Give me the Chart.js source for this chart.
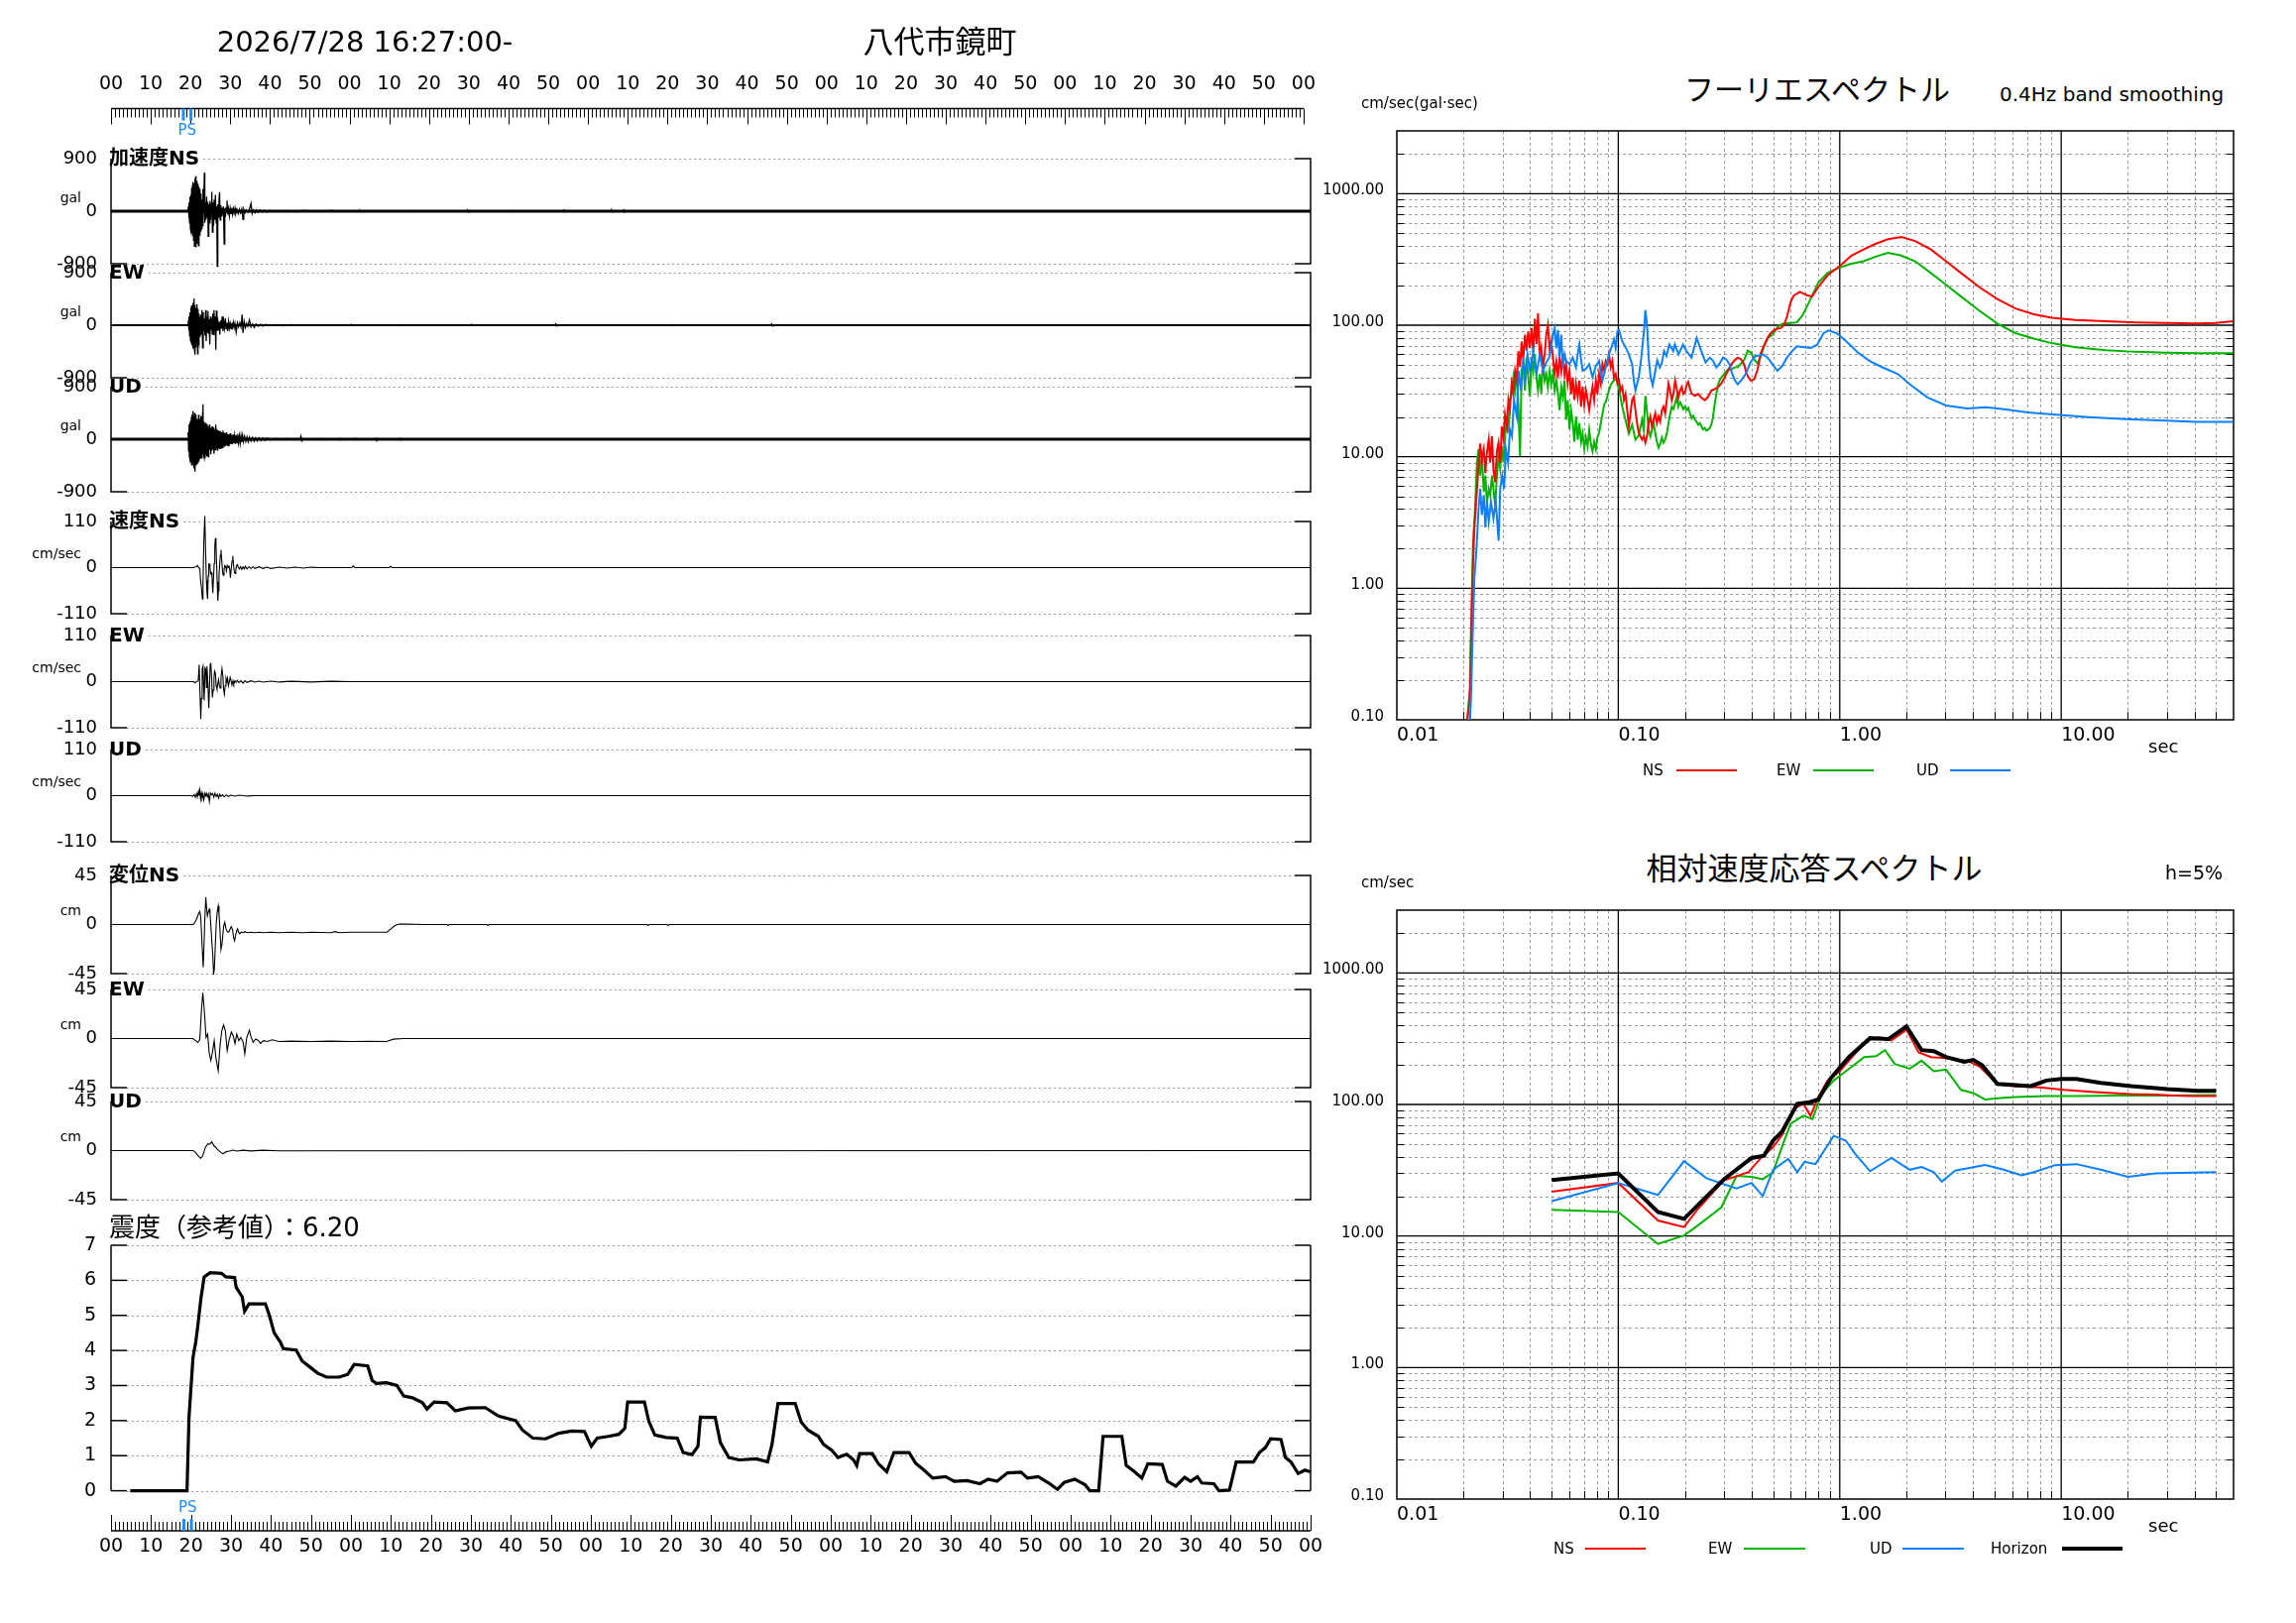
<!DOCTYPE html>
<html lang="ja">
<head>
<meta charset="utf-8">
<title>八代市鏡町</title>
<script src="https://cdn.jsdelivr.net/npm/chart.js@4.4.1/dist/chart.umd.min.js"></script>
<style>
  html, body { margin: 0; padding: 0; background: #fff; }
  #page { position: relative; width: 2316px; height: 1637px; overflow: hidden; background: #fff;
          font-family: "DejaVu Sans", "Noto Sans CJK JP", sans-serif; color: #000; }
  #page canvas { position: absolute; }
  .txt { position: absolute; white-space: nowrap; line-height: 1; }
  .key { position: absolute; }
</style>
</head>
<body>
<div id="page"></div>
<script>
// ---- waveforms: [seconds, value] ----
const accNS = [[0,0],[19.2,0],[19.35,80],[19.45,-120],[19.55,150],[19.65,-200],[19.75,250],[19.85,-300],[19.95,280],[20.05,-350],[20.15,400],[20.25,-380],[20.35,450],[20.45,-420],[20.55,500],[20.65,-500],[20.75,480],[20.85,-600],[20.95,560],[21.05,-520],[21.15,600],[21.25,-620],[21.35,520],[21.45,-560],[21.55,450],[21.65,-480],[21.75,470],[21.85,-590],[21.95,420],[22.05,-400],[22.15,380],[22.25,-420],[22.35,300],[22.45,-350],[22.55,260],[22.65,-300],[22.75,200],[22.85,-250],[22.95,380],[23.05,-150],[23.2,200],[23.35,660],[23.45,-200],[23.6,150],[23.75,-150],[23.9,250],[24.05,-100],[24.2,160],[24.3,-430],[24.45,120],[24.6,-200],[24.75,180],[24.9,-150],[25.05,120],[25.2,330],[25.35,-360],[25.5,150],[25.65,-250],[25.8,200],[25.95,-150],[26.1,280],[26.3,-200],[26.45,80],[26.55,-945],[26.7,120],[26.85,-100],[27.0,200],[27.15,327],[27.3,-150],[27.45,100],[27.6,-80],[27.75,60],[27.9,-50],[28.1,80],[28.3,-560],[28.45,50],[28.6,-100],[28.8,60],[29.0,180],[29.2,-60],[29.4,40],[29.6,-80],[29.8,50],[30.0,-40],[30.2,60],[30.4,-50],[30.6,40],[30.8,-30],[31.0,50],[31.2,-40],[31.5,30],[31.8,-40],[32.1,30],[32.4,-30],[32.7,40],[33.0,-140],[33.2,30],[33.5,-30],[33.8,20],[34.2,-20],[34.6,30],[35.0,130],[35.3,-40],[35.6,20],[36.0,-30],[36.4,20],[36.8,-20],[37.3,20],[37.8,-15],[38.4,15],[39.0,-15],[39.7,15],[40.5,-10],[41.5,10],[42.5,-10],[44,10],[46,-10],[48,10],[50,0],[55,0],[55.3,14],[55.6,-10],[56,0],[62,0],[62.2,15],[62.5,-12],[63,0],[75,0],[75.3,12],[75.6,-10],[76,0],[89,0],[89.2,25],[89.5,-15],[90,0],[100,0],[100.3,15],[100.6,-12],[101,0],[113,0],[113.2,20],[113.5,-12],[114,0],[125,0],[125.2,20],[125.5,-15],[126,0],[128,0],[128.2,22],[128.5,-15],[129,0],[300,0]];
const accEW = [[0,0],[19.2,0],[19.35,60],[19.45,-90],[19.55,150],[19.65,-180],[19.75,220],[19.85,-250],[19.95,300],[20.05,-280],[20.15,340],[20.25,-350],[20.35,300],[20.45,-400],[20.55,380],[20.65,-300],[20.75,460],[20.85,-420],[20.95,350],[21.05,-505],[21.15,300],[21.25,-380],[21.35,250],[21.45,-300],[21.55,355],[21.65,-490],[21.75,280],[21.85,-250],[21.95,200],[22.05,-300],[22.15,150],[22.3,-200],[22.45,180],[22.6,-150],[22.75,260],[22.9,-390],[23.05,220],[23.2,-100],[23.35,120],[23.5,-180],[23.65,260],[23.8,-270],[23.95,150],[24.1,-120],[24.25,240],[24.4,-150],[24.55,100],[24.7,-330],[24.85,150],[25.0,-80],[25.15,120],[25.3,-150],[25.45,200],[25.6,-160],[25.75,260],[25.9,-100],[26.05,150],[26.2,-420],[26.35,250],[26.5,-100],[26.65,130],[26.8,-80],[27.0,60],[27.2,-160],[27.4,80],[27.6,-60],[27.8,150],[28.0,-100],[28.2,60],[28.4,-50],[28.6,120],[28.8,-60],[29.0,40],[29.2,-100],[29.4,60],[29.6,-50],[29.8,30],[30.0,-60],[30.2,40],[30.4,-30],[30.6,50],[30.8,-40],[31.0,30],[31.3,-120],[31.6,40],[31.9,-30],[32.2,40],[32.5,-30],[32.8,180],[33.0,-130],[33.3,60],[33.6,-40],[33.9,30],[34.2,-20],[34.6,90],[35.0,-30],[35.4,20],[35.8,-40],[36.3,20],[36.8,-20],[37.4,15],[38.0,-15],[38.8,15],[39.6,-10],[41,10],[43,-10],[45,10],[47,-8],[50,0],[60,0],[60.2,10],[60.5,-8],[61,0],[72,0],[72.2,12],[72.5,-10],[73,0],[90,0],[90.2,10],[90.5,-8],[91,0],[111,0],[111.2,25],[111.5,-15],[112,0],[140,0],[140.2,10],[140.5,-8],[141,0],[165,0],[165.2,25],[165.5,-15],[166,0],[300,0]];
const accUD = [[0,0],[19.2,0],[19.3,120],[19.4,-200],[19.5,250],[19.6,-300],[19.7,280],[19.8,-350],[19.9,320],[20.0,-400],[20.1,380],[20.2,-450],[20.3,420],[20.4,-380],[20.5,480],[20.6,-420],[20.7,400],[20.8,-500],[20.9,450],[21.0,-555],[21.1,420],[21.2,-450],[21.3,380],[21.4,-420],[21.5,350],[21.6,-400],[21.7,330],[21.8,-350],[21.9,420],[22.0,-380],[22.1,300],[22.2,-340],[22.3,350],[22.4,-300],[22.5,400],[22.6,-320],[22.7,380],[22.8,-280],[22.9,450],[23.0,600],[23.1,-250],[23.2,300],[23.3,-300],[23.4,250],[23.5,-330],[23.6,280],[23.7,-250],[23.8,220],[23.9,-280],[24.0,260],[24.1,-200],[24.2,230],[24.3,-300],[24.4,200],[24.5,-220],[24.6,250],[24.7,-180],[24.8,200],[24.9,-260],[25.0,180],[25.15,-200],[25.3,220],[25.45,-180],[25.6,200],[25.75,-250],[25.9,160],[26.05,-180],[26.2,250],[26.35,-150],[26.5,170],[26.65,-200],[26.8,150],[26.95,-160],[27.1,140],[27.25,-170],[27.4,130],[27.55,-150],[27.7,120],[27.85,-140],[28.0,150],[28.15,-120],[28.3,110],[28.45,-130],[28.6,100],[28.75,-110],[28.9,120],[29.05,-100],[29.2,90],[29.35,-110],[29.5,80],[29.65,-90],[29.8,100],[29.95,-80],[30.1,70],[30.3,-90],[30.5,80],[30.7,-70],[30.9,60],[31.1,-80],[31.3,70],[31.5,-60],[31.7,90],[31.9,-60],[32.1,50],[32.3,-70],[32.5,60],[32.7,-50],[32.9,60],[33.1,-45],[33.4,50],[33.7,-40],[34.0,40],[34.3,-45],[34.6,35],[35.0,-35],[35.4,30],[35.8,-35],[36.2,25],[36.6,-30],[37.0,25],[37.5,-25],[38.0,20],[38.5,-20],[39.0,20],[40,-15],[41,15],[42,-10],[44,10],[46,0],[47.3,0],[47.5,50],[47.7,-30],[48,0],[53,0],[53.2,12],[53.5,-10],[54,0],[57,0],[57.2,15],[57.5,-12],[58,0],[61,0],[61.2,12],[61.5,-10],[62,0],[66,0],[66.2,15],[66.4,-15],[67,0],[72,0],[72.2,15],[72.5,-12],[73,0],[300,0]];
const velNS = [[0,0],[20.5,0],[21.2,2],[21.6,5],[21.9,0],[22.2,-2],[22.4,-30],[22.6,-46],[22.85,-75],[23.0,-40],[23.2,60],[23.45,123],[23.65,40],[23.85,-30],[24.0,-60],[24.15,-75],[24.3,-20],[24.45,9],[24.6,9],[24.75,0],[24.9,-14],[25.05,-12],[25.25,-20],[25.45,-61],[25.6,-30],[25.8,10],[25.95,50],[26.1,70],[26.25,53],[26.4,10],[26.55,-34],[26.7,-79],[26.85,-55],[27.0,-20],[27.15,5],[27.35,30],[27.5,42],[27.7,15],[27.9,-10],[28.05,-18],[28.25,-5],[28.45,5],[28.65,3],[28.85,-8],[29.05,5],[29.3,0],[29.5,5],[29.7,-5],[29.85,-24],[30.05,-5],[30.25,15],[30.45,28],[30.6,10],[30.8,-8],[31.0,-14],[31.2,-5],[31.4,5],[31.6,7],[31.85,0],[32.1,-3],[32.4,2],[32.7,-4],[33.0,2],[33.3,-3],[33.6,3],[34,-3],[34.5,2],[35,-2],[35.5,2],[36,-2],[37,2],[38,-2],[39,1],[40,-2],[42,1],[44,-1],[46,1],[48,-1],[50,1],[52,0],[60.2,0],[60.6,4],[61,0],[69.6,0],[69.9,3],[70.3,0],[300,0]];
const velEW = [[0,0],[20.7,0],[20.9,-3],[21.4,0],[21.8,2],[22.05,40],[22.25,-30],[22.45,-89],[22.6,-40],[22.8,30],[23.0,37],[23.15,-10],[23.3,-45],[23.5,33],[23.7,30],[23.85,-14],[24.0,37],[24.2,0],[24.45,-63],[24.6,-20],[24.8,41],[24.95,45],[25.15,10],[25.35,-38],[25.55,-20],[25.75,10],[25.9,25],[26.1,20],[26.3,-10],[26.5,-18],[26.7,-5],[26.9,5],[27.1,-10],[27.3,-15],[27.5,10],[27.75,31],[27.95,15],[28.15,-18],[28.35,-30],[28.55,-10],[28.75,8],[28.95,0],[29.15,8],[29.35,-10],[29.6,0],[29.8,10],[30.0,4],[30.25,-8],[30.5,2],[30.7,-6],[31,2],[31.3,-2],[31.6,3],[32,-2],[32.5,2],[33,-4],[33.5,2],[34,-2],[35,2],[36,-1],[37,1],[38,-1],[40,1],[42,-1],[45,1],[50,-1],[55,1],[60,0],[300,0]];
const velUD = [[0,0],[20.0,0],[20.4,-2],[20.8,3],[21.1,-4],[21.4,5],[21.6,-3],[21.85,10],[22.0,0],[22.2,13],[22.4,-8],[22.6,6],[22.8,-5],[23.0,4],[23.2,-10],[23.5,6],[23.7,0],[23.9,5],[24.1,-3],[24.35,4],[24.6,-14],[24.85,6],[25.1,2],[25.4,5],[25.7,-4],[26.0,6],[26.3,-2],[26.6,3],[26.9,-6],[27.2,3],[27.5,-2],[27.9,2],[28.3,-3],[28.8,2],[29.3,-2],[30,1],[31,-1],[32,1],[34,-1],[36,0],[300,0]];
const dispNS = [[0,0],[20.5,0],[20.8,1],[21.4,5],[21.9,10],[22.2,12],[22.4,8],[22.6,-5],[22.85,-25],[23.05,-39],[23.25,-20],[23.45,5],[23.7,25],[23.9,15],[24.1,8],[24.3,11],[24.55,14],[24.75,10],[24.95,0],[25.2,-15],[25.45,-28],[25.65,-46],[25.85,-40],[26.05,-22],[26.3,0],[26.55,11],[26.8,17],[27.0,10],[27.25,-5],[27.5,-23],[27.75,-18],[27.95,-10],[28.15,-2],[28.45,2],[28.75,-4],[29.0,-6],[29.3,-7],[29.6,-6],[29.9,-3],[30.1,-2],[30.4,-5],[30.65,-12],[30.9,-15],[31.15,-10],[31.4,-6],[31.65,-4],[31.9,-7],[32.2,-8.5],[32.6,-7],[33,-7.5],[33.5,-6.5],[34,-7.5],[35,-7],[36,-7.5],[37,-7],[38,-7.5],[40,-7],[42,-7.5],[45,-7],[48,-7.5],[50,-7],[55,-7.5],[56,-6.5],[57,-7.5],[60,-7],[65,-7],[69,-7],[70,-4],[71,-1],[72,0.5],[74,0.3],[78,0],[84,0],[84.3,-0.8],[84.6,0],[94,0],[94.3,-0.8],[94.6,0],[134,0],[134.3,-0.8],[134.6,0],[139,0],[139.3,-0.8],[139.6,0],[300,0]];
const dispEW = [[0,0],[20.5,0],[21.0,-1.5],[21.7,-3.6],[22.2,-1],[22.6,25],[22.95,42],[23.35,25],[23.75,1],[24.15,4],[24.55,-13],[24.95,-20],[25.35,-13],[25.8,-2],[26.2,-17],[26.8,-29.5],[27.3,-5],[27.7,7],[28.15,12.5],[28.6,7],[29.05,-11],[29.5,-2],[30.1,6],[30.6,2],[31.0,-4.5],[31.45,4],[31.95,-2],[32.45,1],[33.05,-3.5],[33.45,-14],[33.95,1],[34.6,7.6],[35.05,1],[35.55,-3.6],[36.15,-0.5],[36.75,-1.5],[37.4,-4.5],[38.1,-2],[39.1,-2.7],[40.3,-1.2],[42,-2.7],[45,-2.4],[50,-2.7],[55,-2.4],[60,-2.7],[65,-2.5],[68.9,-2.7],[70.6,-0.6],[73,0],[300,0]];
const dispUD = [[0,0],[20.5,0],[21.1,-1.5],[21.7,-4.5],[22.4,-7],[22.9,-5],[23.6,3],[24.2,6],[24.7,6],[25.2,8],[25.7,4.5],[26.2,3],[26.5,1.5],[27.4,-1.5],[28.0,-3],[28.8,-1],[29.6,-0.5],[30.4,0.5],[31.5,-0.5],[33,0.3],[35,-0.3],[38,0.3],[42,-0.2],[300,0]];

// ---- seismic intensity: [seconds, value] ----
const shindo = [[4.8,0],[19.0,0],[19.5,2.1],[20.5,3.8],[21.2,4.25],[21.6,4.6],[22.5,5.5],[23.3,6.1],[24.8,6.22],[27.6,6.2],[28.7,6.1],[30.9,6.08],[31.3,5.8],[32.8,5.53],[33.4,5.12],[34.5,5.33],[38.6,5.33],[39.6,5.0],[40.8,4.5],[42.3,4.25],[43.1,4.05],[46.3,4.01],[47.8,3.7],[49.6,3.54],[51.7,3.35],[53.9,3.24],[57.1,3.24],[59.2,3.32],[60.8,3.6],[64.2,3.56],[65.3,3.15],[66.3,3.06],[68.9,3.08],[71.5,3.0],[73.2,2.7],[75.4,2.65],[77.9,2.51],[79.0,2.33],[80.8,2.53],[84.0,2.51],[86.1,2.28],[89.3,2.36],[93.6,2.37],[96.9,2.13],[101.2,2.0],[102.9,1.73],[105.5,1.5],[108.7,1.48],[112.0,1.64],[115.2,1.7],[118.4,1.69],[120.1,1.27],[121.6,1.5],[124.4,1.55],[127.0,1.61],[128.5,1.78],[129.2,2.53],[133.4,2.53],[134.5,1.98],[136.0,1.59],[138.8,1.52],[141.6,1.5],[143.1,1.09],[145.3,1.03],[146.8,1.27],[147.4,2.1],[151.1,2.09],[152.4,1.37],[154.5,0.95],[157.1,0.88],[161.4,0.91],[164.2,0.82],[165.3,1.32],[166.8,2.49],[171.1,2.49],[172.6,1.96],[174.3,1.73],[176.9,1.55],[178.2,1.32],[180.3,1.15],[181.8,0.95],[184.0,1.04],[185.7,0.88],[186.5,0.72],[187.2,1.06],[190.4,1.06],[191.9,0.77],[194.0,0.54],[195.8,1.09],[199.6,1.09],[201.2,0.79],[203.3,0.59],[205.5,0.36],[208.7,0.40],[210.9,0.27],[214.1,0.29],[217.3,0.2],[219.4,0.33],[221.6,0.27],[224.2,0.51],[227.6,0.53],[229.2,0.36],[231.9,0.40],[234.5,0.22],[236.7,0.04],[238.4,0.24],[241.0,0.33],[243.6,0.17],[244.8,0.0],[247.0,0.0],[248.1,1.55],[252.8,1.55],[253.9,0.72],[256.0,0.54],[257.8,0.36],[259.3,0.77],[262.9,0.75],[264.2,0.27],[266.3,0.13],[268.5,0.38],[270.0,0.27],[271.7,0.40],[272.8,0.22],[275.8,0.2],[277.1,0.0],[279.7,0.02],[281.4,0.82],[285.7,0.82],[287.2,1.09],[288.7,1.23],[290.0,1.48],[292.6,1.46],[293.7,0.95],[295.1,0.82],[296.9,0.49],[298.6,0.59],[299.9,0.54]];

// ---- Fourier spectra: [period sec, cm/sec] ----
const fourierNS = [[0.0208,0.1],[0.0214,0.15],[0.0216,0.35],[0.0221,1.6],[0.0224,2.9],[0.0229,5],[0.0234,9],[0.0238,12.6],[0.0242,9.5],[0.0247,11.4],[0.0251,7.5],[0.0255,10.7],[0.026,13.5],[0.0264,9],[0.0269,14.3],[0.0273,8],[0.0278,6.4],[0.0283,11],[0.0288,12.8],[0.0293,9],[0.0298,17],[0.0303,14],[0.0308,21],[0.0314,17],[0.0319,27],[0.0324,23],[0.033,36],[0.0336,30],[0.0342,45],[0.0348,38],[0.0354,63.6],[0.036,48],[0.0366,75],[0.0372,55],[0.0379,84.7],[0.0385,64],[0.0392,89.7],[0.0399,67],[0.0406,95],[0.0413,62],[0.042,112],[0.0427,72],[0.0434,123],[0.0442,56],[0.0449,67],[0.0457,48],[0.0465,60],[0.0473,85],[0.0481,100],[0.049,64],[0.0498,75],[0.0507,57],[0.0516,43],[0.0525,53],[0.0534,40],[0.0543,57],[0.0553,45],[0.0562,60],[0.0572,42],[0.0581,50],[0.0591,36],[0.0602,45],[0.0612,30],[0.0623,40],[0.0633,27],[0.0644,36],[0.0656,28.5],[0.0667,38],[0.0679,24],[0.069,34],[0.0702,25],[0.0714,32],[0.0727,27],[0.0739,22.6],[0.0752,28.5],[0.0765,34],[0.0778,27],[0.0792,38],[0.0805,30],[0.0819,42.5],[0.0834,36],[0.0848,50.5],[0.0863,45],[0.0878,53.5],[0.0893,50.5],[0.0908,60],[0.0924,48],[0.094,53.5],[0.0956,40],[0.0973,42.5],[0.099,36],[0.1007,38],[0.1024,32],[0.1042,34],[0.106,27],[0.1078,30],[0.1097,22.6],[0.1116,17],[0.1135,21.4],[0.1155,27],[0.1175,28.5],[0.1195,22.6],[0.1216,18],[0.1237,15.2],[0.1258,14.3],[0.128,13.5],[0.1302,14.3],[0.1325,12.8],[0.1348,14.3],[0.1371,18],[0.1395,20.2],[0.1419,17],[0.1444,19.1],[0.1469,21.4],[0.1494,18],[0.152,20.2],[0.1546,18.5],[0.1573,22.6],[0.16,24],[0.1628,21.4],[0.1656,27],[0.1685,36],[0.1714,32],[0.1744,26.9],[0.1774,30],[0.1805,37.9],[0.1836,33],[0.1867,28],[0.19,31.9],[0.1933,33.8],[0.1966,30],[0.2,31],[0.2035,35],[0.207,37],[0.2106,33],[0.2142,30.2],[0.2217,29],[0.2295,30],[0.2375,28],[0.2458,26.9],[0.2543,28.5],[0.2632,31.9],[0.2724,32.6],[0.2819,33.8],[0.2917,36],[0.3019,40],[0.3125,45],[0.3234,50],[0.3347,54],[0.3463,56.7],[0.3584,55],[0.371,50],[0.3774,44],[0.3839,41],[0.3973,37.9],[0.4111,39],[0.4256,46],[0.4404,61.7],[0.4558,70],[0.4717,80],[0.4882,87],[0.5052,92],[0.5228,94],[0.5411,95],[0.56,100],[0.58,119],[0.6,150],[0.62,168],[0.66,179],[0.71,169],[0.75,165],[0.8,195],[0.88,239],[1.0,282],[1.13,338],[1.28,376],[1.45,415],[1.65,450],[1.9,469],[2.19,436],[2.58,376],[3.02,306],[3.53,249],[4.26,195],[5.15,158],[6.21,134],[7.51,121],[9.07,114],[11.6,109.5],[15.9,107],[21.8,105],[29.7,104],[40.5,103],[49.9,104],[59.6,107]];
const fourierEW = [[0.0208,0.1],[0.0214,0.18],[0.0216,0.45],[0.0221,2.3],[0.0226,4.3],[0.023,9],[0.0234,11.4],[0.0238,7.2],[0.0242,10.1],[0.0247,5.4],[0.0251,7.2],[0.0255,4.5],[0.026,5.7],[0.0264,5.1],[0.0269,7.2],[0.0273,5.7],[0.0278,4.3],[0.0283,7.2],[0.0288,10.1],[0.0293,8.1],[0.0298,12],[0.0303,9],[0.0308,14],[0.0314,20],[0.0319,15.2],[0.0324,26.9],[0.033,30],[0.0336,40.2],[0.0342,31.9],[0.0348,45],[0.0354,24],[0.036,10.1],[0.0366,45],[0.0372,50.5],[0.0379,31.9],[0.0385,56.7],[0.0392,40],[0.0399,28.5],[0.0406,56.7],[0.0413,45],[0.042,60],[0.0427,40.2],[0.0434,31.9],[0.0442,42.5],[0.0449,30.2],[0.0457,53.5],[0.0465,37.9],[0.0473,42.5],[0.0481,33.8],[0.049,45],[0.0498,35.8],[0.0507,42.5],[0.0516,31.9],[0.0525,37.9],[0.0534,30.2],[0.0543,22.6],[0.0553,33.8],[0.0562,28.5],[0.0572,37.9],[0.0581,19.1],[0.0591,26.9],[0.0602,16.1],[0.0612,22.6],[0.0623,18],[0.0633,13],[0.0644,20.2],[0.0656,13.5],[0.0667,18],[0.0679,13],[0.069,15],[0.0702,11.5],[0.0714,14],[0.0727,12],[0.0739,16],[0.0752,12.5],[0.0765,11],[0.0778,13],[0.0792,11.4],[0.0805,14],[0.0819,15.2],[0.0834,18],[0.0848,21],[0.0863,25],[0.0878,26],[0.0893,29],[0.0908,31.9],[0.0924,35],[0.094,36.8],[0.0956,38],[0.0973,39],[0.099,38],[0.1007,33],[0.1042,24],[0.1078,19],[0.1116,15],[0.1155,17.5],[0.1195,13.5],[0.1237,14.5],[0.128,19],[0.1302,16],[0.1325,29],[0.1348,22],[0.1371,16],[0.1395,14.3],[0.1419,16],[0.1444,18],[0.1469,15],[0.1494,13],[0.152,11.7],[0.1546,12.5],[0.1573,14],[0.16,12.8],[0.1628,13.5],[0.1656,15],[0.1685,18],[0.1714,21],[0.1744,24],[0.1774,23],[0.1805,25.4],[0.1836,28.5],[0.1867,24],[0.19,26],[0.1933,24.6],[0.1966,23],[0.2,24],[0.2035,22.6],[0.207,23.5],[0.2106,21.4],[0.2142,19.6],[0.2179,20.5],[0.2217,19.1],[0.2256,18.5],[0.2295,17.5],[0.2335,18],[0.2375,17],[0.2416,16.1],[0.2458,16.5],[0.25,15.8],[0.2543,16.1],[0.2587,16.5],[0.2632,17.5],[0.2677,20],[0.2724,25],[0.2771,30],[0.2819,35],[0.2868,38],[0.2917,40],[0.3019,43],[0.3125,46],[0.3234,46],[0.3347,47.7],[0.3463,48],[0.3584,51],[0.371,55],[0.3839,64],[0.3973,62],[0.4111,55],[0.4256,51],[0.4404,58],[0.4558,70],[0.4717,79],[0.4882,83],[0.5052,88],[0.5228,96],[0.5411,101],[0.56,103],[0.6,104],[0.64,105],[0.68,119],[0.73,152],[0.8,211],[0.88,249],[1.0,275],[1.13,293],[1.28,306],[1.45,332],[1.65,355],[1.88,340],[2.19,306],[2.58,249],[3.02,203],[3.53,165],[4.26,129],[5.15,103],[6.21,87],[7.51,79],[9.07,73],[11.6,68],[15.9,64.5],[21.8,62.7],[29.7,61.7],[40.5,61.2],[59.6,61.2]];
const fourierUD = [[0.0214,0.1],[0.0216,0.14],[0.0221,0.58],[0.0224,1.2],[0.0229,2.0],[0.0234,4.05],[0.0238,5.7],[0.0242,3.6],[0.0247,5.1],[0.0251,2.9],[0.0255,4.55],[0.026,3.2],[0.0266,4.55],[0.0273,3.4],[0.028,4.55],[0.0288,2.3],[0.0293,5.7],[0.0299,7.2],[0.0305,5.7],[0.0311,11.4],[0.0318,9.0],[0.0324,16.1],[0.0331,14.3],[0.0338,26.9],[0.0348,20.2],[0.0355,45],[0.0364,31.9],[0.0372,56.7],[0.038,40.2],[0.0389,60],[0.0399,45],[0.0406,53.5],[0.0413,63],[0.0427,42.5],[0.0442,60],[0.0457,45],[0.0473,52],[0.049,58],[0.0507,84.7],[0.0516,95],[0.0525,67],[0.0534,92],[0.0543,56.7],[0.0553,84.7],[0.0562,48],[0.0572,60],[0.0581,53.5],[0.0602,50.5],[0.0623,56.7],[0.0644,47.7],[0.0656,60],[0.0667,71.3],[0.0679,55],[0.069,45],[0.0714,46.5],[0.0739,50.5],[0.0765,40.2],[0.0792,49],[0.0819,53.5],[0.0834,44],[0.0848,37.9],[0.0878,48],[0.0908,60],[0.094,71.3],[0.0956,78],[0.0973,67],[0.099,89.7],[0.1007,92],[0.1042,75.5],[0.1078,68],[0.1116,60],[0.1155,50.5],[0.1175,38],[0.1195,31.9],[0.1237,40.2],[0.127,56.7],[0.131,95],[0.1325,130],[0.1348,101],[0.1371,56.7],[0.14,40.2],[0.143,35],[0.1469,45],[0.15,54],[0.154,47.7],[0.157,51],[0.161,63.6],[0.165,58.3],[0.17,71.3],[0.177,63.6],[0.18,71.3],[0.187,60],[0.196,71.3],[0.203,63.6],[0.214,56.7],[0.226,80],[0.237,63.6],[0.248,52],[0.259,56.7],[0.268,53.5],[0.277,47.7],[0.287,51],[0.297,56.7],[0.307,55],[0.318,50.5],[0.323,45],[0.335,38.5],[0.346,35.5],[0.358,37.9],[0.376,42.5],[0.395,52],[0.416,58.3],[0.426,58.3],[0.449,60],[0.472,56.7],[0.497,50.5],[0.523,45],[0.55,49],[0.578,56.7],[0.61,63.6],[0.64,69],[0.69,68],[0.74,67],[0.79,71],[0.845,87],[0.89,91.3],[0.97,86.8],[1.07,75.5],[1.21,61.7],[1.37,53.2],[1.55,48.0],[1.83,42.5],[2.11,34.7],[2.49,28.2],[3.02,24.5],[3.77,23.3],[4.57,23.8],[5.52,23.0],[7.07,21.7],[9.8,20.8],[13.3,20.0],[19.5,19.3],[29.7,18.8],[40.5,18.4],[60,18.4]];

// ---- relative velocity response spectra h=5%: [period sec, cm/sec] ----
const respNS = [[0.05,21.7],[0.1,25.3],[0.151,13.1],[0.198,11.7],[0.227,15.8],[0.3,26.5],[0.388,30.6],[0.44,39.2],[0.5,47.3],[0.55,59],[0.623,93],[0.685,101],[0.738,82],[0.8,114],[0.881,152],[1.0,179],[1.135,229],[1.33,311],[1.51,324],[1.71,306],[2.0,370],[2.27,249],[2.58,229],[2.92,226],[3.32,220],[3.76,215],[4.27,195],[5.15,143],[6.23,137],[8.02,135],[10.3,129],[14.2,124],[20.7,120],[26.6,119],[32.1,117],[38.8,116],[50,116]];
const respEW = [[0.05,15.8],[0.1,15.2],[0.151,8.7],[0.198,10.1],[0.227,11.9],[0.292,16.5],[0.342,28.6],[0.4,28.2],[0.449,27],[0.5,30.6],[0.55,48.1],[0.6,71.4],[0.685,82],[0.753,77.5],[0.827,119],[0.939,152],[1.065,179],[1.29,229],[1.46,233],[1.6,259],[1.77,203],[2.07,187],[2.34,215],[2.66,179],[3.02,184],[3.53,129],[4.01,122],[4.54,109],[5.32,112],[6.23,114],[8.55,116],[11.7,116],[19.4,117],[30.2,117],[50,118]];
const respUD = [[0.05,18.4],[0.1,25.3],[0.151,20.5],[0.198,37],[0.25,27.5],[0.342,23],[0.4,25.3],[0.449,20.1],[0.5,31.9],[0.585,38.5],[0.643,30.6],[0.694,36.6],[0.777,35.2],[0.939,57.7],[1.065,53.1],[1.17,42.5],[1.37,31.1],[1.71,39.2],[2.07,31.9],[2.34,33.5],[2.66,30.6],[2.89,25.9],[3.32,31.4],[4.54,34.6],[5.49,31.9],[6.64,28.9],[7.53,30.6],[9.4,34.6],[11.7,35.2],[15.1,31.9],[20,28.2],[26.6,29.9],[38.8,30.3],[50,30.6]];
const respH = [[0.05,26.6],[0.1,29.9],[0.151,15.2],[0.198,13.5],[0.3,27],[0.4,39.2],[0.455,40.8],[0.5,53.1],[0.55,62.5],[0.643,101],[0.73,104],[0.8,109],[0.91,158],[1.1,229],[1.37,319],[1.66,314],[2.0,392],[2.34,259],[2.66,254],[3.02,229],[3.65,211],[4.01,218],[4.4,198],[5.15,143],[6.23,140],[7.3,138],[8.55,152],[10,156],[11.7,156],[15.1,146],[20.7,138],[30.2,131],[41.3,127],[50,127]];

// ---- ticks / markers ----
const timeTicks = [0,10,20,30,40,50,60,70,80,90,100,110,120,130,140,150,160,170,180,190,200,210,220,230,240,250,260,270,280,290,300];
const shindoTicks = [0,1,2,3,4,5,6,7];
const specXTicks = [0.01, 0.1, 1, 10];
const specYTicks = [0.1, 1, 10, 100, 1000];
const phaseP = 18.2, phaseS = 20.1;

const FONT = '"DejaVu Sans", "Noto Sans CJK JP", sans-serif';
const RED = '#ff0000', GREEN = '#00b400', BLUE = '#0a80ff', PSBLUE = '#1e8cff';
const X0 = 112, X1 = 1322, LW = 1340;

Chart.defaults.font.family = FONT;
Chart.defaults.color = '#000';

const page = document.getElementById('page');
const toXY = arr => arr.map(([x, y]) => ({ x, y }));

function makeCanvas(left, top, w, h) {
  const c = document.createElement('canvas');
  c.width = w; c.height = h;
  c.style.left = left + 'px'; c.style.top = top + 'px';
  c.style.width = w + 'px'; c.style.height = h + 'px';
  page.appendChild(c);
  return c;
}
function text(str, x, y, size, align, extra) {
  const d = document.createElement('div');
  d.className = 'txt';
  d.textContent = str;
  d.style.left = x + 'px'; d.style.top = y + 'px';
  d.style.fontSize = size + 'px';
  const ax = align === 'center' ? '-50%' : align === 'right' ? '-100%' : '0';
  d.style.transform = 'translate(' + ax + ',-50%)';
  Object.assign(d.style, extra || {});
  page.appendChild(d);
}
function key(x, y, w, h, color) {
  const d = document.createElement('div');
  d.className = 'key';
  Object.assign(d.style, { left: x + 'px', top: (y - h / 2) + 'px', width: w + 'px', height: h + 'px', background: color });
  page.appendChild(d);
}
function seg(ctx, x1, y1, x2, y2) {
  ctx.beginPath(); ctx.moveTo(x1, y1); ctx.lineTo(x2, y2); ctx.stroke();
}
const base = {
  responsive: false, animation: false, events: [],
  plugins: { legend: { display: false }, tooltip: { enabled: false } }
};

// frame, dotted range lines, labels of one trace
const stripDeco = {
  id: 'stripDeco',
  beforeDatasetsDraw(chart, args, o) {
    const { ctx, chartArea: a, scales: { y } } = chart;
    const yt = y.getPixelForValue(y.max), yb = y.getPixelForValue(y.min), y0 = y.getPixelForValue(0);
    ctx.save();
    ctx.font = 'bold 20px ' + FONT;
    ctx.textBaseline = 'middle'; ctx.fillStyle = '#000';
    ctx.fillText(o.name, a.left - 2, yt + 1);
    const nw = ctx.measureText(o.name).width;
    ctx.strokeStyle = '#9a9a9a'; ctx.lineWidth = 1; ctx.setLineDash([2, 3]);
    seg(ctx, a.left + nw + 2, Math.round(yt) + 0.5, a.right - 16, Math.round(yt) + 0.5);
    seg(ctx, a.left + 16, Math.round(yb) + 0.5, a.right - 16, Math.round(yb) + 0.5);
    ctx.setLineDash([]);
    ctx.strokeStyle = '#000'; ctx.lineWidth = 1.5;
    ctx.beginPath(); ctx.moveTo(a.left, yt); ctx.lineTo(a.left, yb); ctx.lineTo(a.left + 16, yb); ctx.stroke();
    ctx.beginPath(); ctx.moveTo(a.right - 16, yt); ctx.lineTo(a.right, yt); ctx.lineTo(a.right, yb); ctx.lineTo(a.right - 16, yb); ctx.stroke();
    if (o.zeroW) { ctx.lineWidth = o.zeroW; seg(ctx, a.left, y0, a.right, y0); }
    ctx.font = '14px ' + FONT; ctx.textAlign = 'right';
    ctx.fillText(o.unit, 82, y0 - 13);
    ctx.restore();
  }
};

const strips = [
  { data: accNS, range: 900, top: 160, bottom: 266, name: '加速度NS', unit: 'gal', zeroW: 3, w: 1.3 },
  { data: accEW, range: 900, top: 275, bottom: 381, name: 'EW', unit: 'gal', zeroW: 2, w: 1.3 },
  { data: accUD, range: 900, top: 390, bottom: 496, name: 'UD', unit: 'gal', zeroW: 3, w: 1.3 },
  { data: velNS, range: 110, top: 526, bottom: 619, name: '速度NS', unit: 'cm/sec', zeroW: 0, w: 1.1 },
  { data: velEW, range: 110, top: 641, bottom: 734, name: 'EW', unit: 'cm/sec', zeroW: 0, w: 1.1 },
  { data: velUD, range: 110, top: 756, bottom: 849, name: 'UD', unit: 'cm/sec', zeroW: 0, w: 1.1 },
  { data: dispNS, range: 45, top: 883, bottom: 982, name: '変位NS', unit: 'cm', zeroW: 0, w: 1.1 },
  { data: dispEW, range: 45, top: 998, bottom: 1097, name: 'EW', unit: 'cm', zeroW: 0, w: 1.1 },
  { data: dispUD, range: 45, top: 1111, bottom: 1210, name: 'UD', unit: 'cm', zeroW: 0, w: 1.1 }
];

strips.forEach(s => {
  const pad = 30;
  const cv = makeCanvas(0, s.top - pad, LW, s.bottom - s.top + 2 * pad);
  new Chart(cv, {
    type: 'line',
    data: { datasets: [{ data: toXY(s.data), borderColor: '#000', borderWidth: s.w, pointRadius: 0, clip: false }] },
    options: {
      ...base,
      layout: { padding: { top: pad, bottom: pad, left: 0, right: LW - X1 } },
      plugins: { ...base.plugins, stripDeco: { name: s.name, unit: s.unit, zeroW: s.zeroW } },
      scales: {
        x: { type: 'linear', min: 0, max: 300, display: false },
        y: {
          min: -s.range, max: s.range, bounds: 'data',
          afterFit: sc => { sc.width = X0; },
          afterBuildTicks: sc => { sc.ticks = [-s.range, 0, s.range].map(v => ({ value: v })); },
          ticks: { font: { size: 18 }, color: '#000', padding: 14, autoSkip: false },
          grid: { display: false, drawTicks: false },
          border: { display: false }
        }
      }
    },
    plugins: [stripDeco]
  });
});

// intensity panel
const shindoDeco = {
  id: 'shindoDeco',
  beforeDatasetsDraw(chart) {
    const { ctx, chartArea: a, scales: { y } } = chart;
    ctx.save();
    ctx.strokeStyle = '#9a9a9a'; ctx.lineWidth = 1; ctx.setLineDash([2, 3]);
    shindoTicks.forEach(v => {
      const py = Math.round(y.getPixelForValue(v)) + 0.5;
      seg(ctx, a.left + 16, py, a.right - 16, py);
    });
    ctx.setLineDash([]); ctx.strokeStyle = '#000'; ctx.lineWidth = 1.5;
    seg(ctx, a.left, a.top, a.left, a.bottom);
    seg(ctx, a.right, a.top, a.right, a.bottom);
    shindoTicks.forEach(v => {
      const py = y.getPixelForValue(v);
      seg(ctx, a.left, py, a.left + 16, py);
      seg(ctx, a.right - 16, py, a.right, py);
    });
    ctx.restore();
  }
};
new Chart(makeCanvas(0, 1210, LW, 320), {
  type: 'line',
  data: { datasets: [{ data: toXY(shindo), borderColor: '#000', borderWidth: 3.2, pointRadius: 0, clip: false }] },
  options: {
    ...base,
    layout: { padding: { top: 46, bottom: 19, left: 0, right: LW - X1 } },
    scales: {
      x: { type: 'linear', min: 0, max: 300, display: false },
      y: {
        min: 0, max: 7, bounds: 'data',
        afterFit: sc => { sc.width = X0; },
        afterBuildTicks: sc => { sc.ticks = shindoTicks.map(v => ({ value: v })); },
        ticks: { font: { size: 19 }, color: '#000', padding: 15, autoSkip: false },
        grid: { display: false, drawTicks: false },
        border: { display: false }
      }
    }
  },
  plugins: [shindoDeco]
});

// time rulers (top and bottom)
const rulerDeco = {
  id: 'ruler',
  afterDraw(chart, args, o) {
    const { ctx, chartArea: a, scales: { x } } = chart;
    const yb = o.dir > 0 ? a.top : a.bottom;
    ctx.save();
    ctx.strokeStyle = '#000'; ctx.lineWidth = 1.5;
    seg(ctx, a.left, yb, a.right, yb);
    ctx.lineWidth = 1;
    for (let s = 0; s <= 300; s++) {
      const px = Math.round(x.getPixelForValue(s)) + 0.5;
      seg(ctx, px, yb, px, yb + o.dir * (s % 10 === 0 ? 16 : 9));
    }
    ctx.strokeStyle = PSBLUE; ctx.lineWidth = 3;
    [phaseP, phaseS].forEach(t => {
      const px = x.getPixelForValue(t);
      seg(ctx, px, yb, px, yb + o.dir * 12);
    });
    ctx.fillStyle = PSBLUE; ctx.font = '15px ' + FONT;
    ctx.textAlign = 'center'; ctx.textBaseline = 'middle';
    ctx.fillText('PS', x.getPixelForValue((phaseP + phaseS) / 2), yb + o.dir * 23);
    ctx.restore();
  }
};
function ruler(top, height, padTop, padBottom, axisH, position, dir, tickPad) {
  new Chart(makeCanvas(0, top, LW, height), {
    type: 'line',
    data: { datasets: [] },
    options: {
      ...base,
      layout: { padding: { top: padTop, bottom: padBottom, left: X0, right: LW - X1 } },
      plugins: { ...base.plugins, ruler: { dir } },
      scales: {
        x: {
          type: 'linear', min: 0, max: 300, position, bounds: 'data',
          afterFit: sc => { sc.height = axisH; },
          afterBuildTicks: sc => { sc.ticks = timeTicks.map(v => ({ value: v })); },
          ticks: { callback: v => String(v % 60).padStart(2, '0'), font: { size: 19 }, color: '#000',
                   padding: tickPad, autoSkip: false, maxRotation: 0 },
          grid: { display: false, drawTicks: false },
          border: { display: false }
        },
        y: { display: false }
      }
    },
    plugins: [rulerDeco]
  });
}
ruler(55, 85, 0, 12, 54.5, 'top', 1, 13);
ruler(1500, 100, 26, 0, 56, 'bottom', -1, 5);

// log-log spectrum grid
const logGrid = {
  id: 'loggrid',
  beforeDatasetsDraw(chart) {
    const { ctx, chartArea: a, scales: { x, y } } = chart;
    ctx.save();
    ctx.strokeStyle = '#9a9a9a'; ctx.lineWidth = 1; ctx.setLineDash([3, 3]);
    const minorX = [], minorY = [];
    specXTicks.forEach(d => { for (let m = 2; m < 10; m++) if (m * d < x.max * 0.99) minorX.push(m * d); });
    specYTicks.concat([10000]).forEach(d => { for (let m = 2; m < 10; m++) if (m * d < y.max * 0.99) minorY.push(m * d); });
    minorX.forEach(v => { const px = Math.round(x.getPixelForValue(v)) + 0.5; seg(ctx, px, a.top, px, a.bottom); });
    minorY.forEach(v => { const py = Math.round(y.getPixelForValue(v)) + 0.5; seg(ctx, a.left, py, a.right, py); });
    ctx.setLineDash([]); ctx.strokeStyle = '#000'; ctx.lineWidth = 1;
    minorX.forEach(v => { const px = Math.round(x.getPixelForValue(v)) + 0.5; seg(ctx, px, a.bottom, px, a.bottom - 8); });
    minorY.forEach(v => {
      const py = Math.round(y.getPixelForValue(v)) + 0.5;
      seg(ctx, a.left, py, a.left + 7, py); seg(ctx, a.right - 7, py, a.right, py);
    });
    ctx.lineWidth = 1.3;
    specXTicks.slice(1).forEach(v => { const px = x.getPixelForValue(v); seg(ctx, px, a.top, px, a.bottom); });
    specYTicks.slice(1).forEach(v => { const py = y.getPixelForValue(v); seg(ctx, a.left, py, a.right, py); });
    ctx.lineWidth = 1.5;
    ctx.strokeRect(a.left, a.top, a.right - a.left, a.bottom - a.top);
    ctx.restore();
  }
};
function spectrum(boxTop, boxBottom, sets) {
  const cl = 1320, cw = 960, ct = boxTop - 16, ch = boxBottom + 44 - ct;
  new Chart(makeCanvas(cl, ct, cw, ch), {
    type: 'line',
    data: {
      datasets: sets.map(d => ({ data: toXY(d.data), borderColor: d.color, borderWidth: d.width,
                                 pointRadius: 0, order: d.order }))
    },
    options: {
      ...base,
      layout: { padding: { top: 16, bottom: 0, left: 0, right: cl + cw - 2253 } },
      scales: {
        x: {
          type: 'logarithmic', min: 0.01, max: 60, bounds: 'data',
          afterFit: sc => { sc.height = 44; },
          afterBuildTicks: sc => { sc.ticks = specXTicks.map(v => ({ value: v })); },
          ticks: { callback: v => Number(v).toFixed(2), align: 'start', font: { size: 19 }, color: '#000',
                   padding: 5, autoSkip: false, maxRotation: 0 },
          grid: { display: false, drawTicks: false },
          border: { display: false }
        },
        y: {
          type: 'logarithmic', min: 0.1, max: 3000, bounds: 'data',
          afterFit: sc => { sc.width = 1409 - cl; },
          afterBuildTicks: sc => { sc.ticks = specYTicks.map(v => ({ value: v })); },
          ticks: { callback: v => Number(v).toFixed(2), font: { size: 15 }, color: '#000',
                   padding: 13, labelOffset: -3, autoSkip: false },
          grid: { display: false, drawTicks: false },
          border: { display: false }
        }
      }
    },
    plugins: [logGrid]
  });
}
spectrum(126, 726, [
  { data: fourierEW, color: GREEN, width: 2, order: 2 },
  { data: fourierNS, color: RED, width: 2, order: 1 },
  { data: fourierUD, color: BLUE, width: 2, order: 0 }
]);
spectrum(912, 1512, [
  { data: respEW, color: GREEN, width: 2, order: 3 },
  { data: respNS, color: RED, width: 2, order: 2 },
  { data: respUD, color: BLUE, width: 2, order: 1 },
  { data: respH, color: '#000', width: 4, order: 0 }
]);

// headings, units, legends
text('2026/7/28 16:27:00-', 368, 42, 29, 'center');
text('八代市鏡町', 948, 42, 31, 'center');
text('震度（参考値）：6.20', 110, 1238, 26, 'left');

text('フーリエスペクトル', 1833, 91, 30, 'center');
text('0.4Hz band smoothing', 2017, 95, 20, 'left');
text('cm/sec(gal·sec)', 1373, 104, 15, 'left');
text('sec', 2167, 753, 18, 'left');
text('NS', 1657, 777, 15, 'left'); key(1691, 777, 61, 2, RED);
text('EW', 1792, 777, 15, 'left'); key(1829, 777, 61, 2, GREEN);
text('UD', 1933, 777, 15, 'left'); key(1967, 777, 61, 2, BLUE);

text('相対速度応答スペクトル', 1830, 876, 31, 'center');
text('h=5%', 2184, 880, 19, 'left');
text('cm/sec', 1373, 890, 15, 'left');
text('sec', 2167, 1539, 18, 'left');
text('NS', 1567, 1562, 15, 'left'); key(1599, 1562, 61, 2, RED);
text('EW', 1723, 1562, 15, 'left'); key(1759, 1562, 62, 2, GREEN);
text('UD', 1886, 1562, 15, 'left'); key(1919, 1562, 62, 2, BLUE);
text('Horizon', 2008, 1562, 15, 'left'); key(2080, 1562, 61, 4, '#000');
</script>
</body>
</html>
